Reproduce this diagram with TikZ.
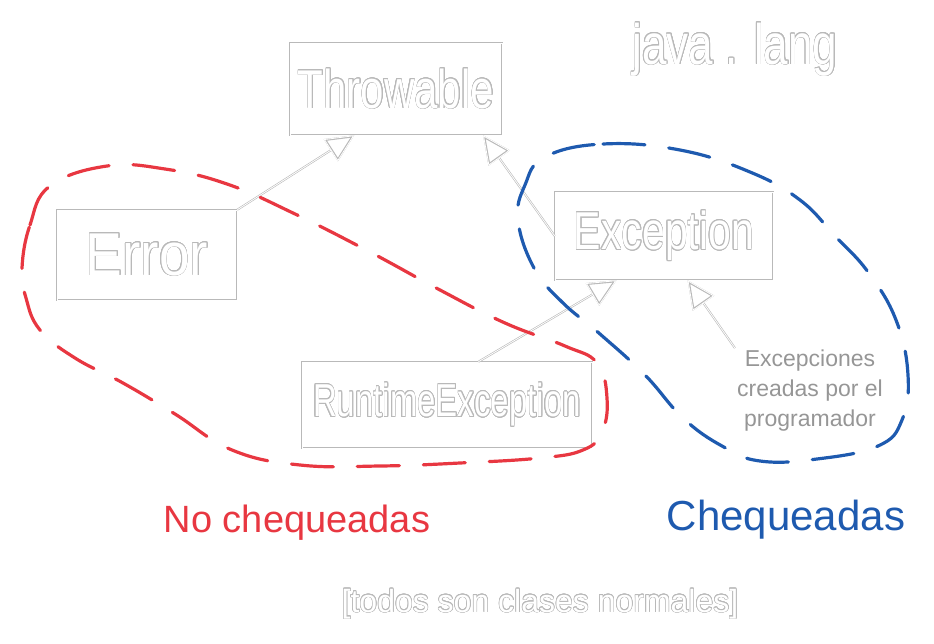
\documentclass[tikz,border=0pt]{standalone}
\usepackage{fontspec}
\setmainfont{Liberation Sans}
\usepackage{xcolor}
\usepackage[copies]{contour}
\usetikzlibrary{arrows.meta, positioning}

\definecolor{sketchgray}{RGB}{185,185,185}
\definecolor{notegray}{RGB}{150,150,150}
\definecolor{uncheckedred}{RGB}{232,55,65}
\definecolor{checkedblue}{RGB}{30,90,175}
\contourlength{0.6pt}
\contournumber{20}
\newcommand{\hollow}[2][1]{\scalebox{1}[#1]{\contour{sketchgray}{\textcolor{white}{#2}}}}

\begin{document}
\begin{tikzpicture}[x=1pt, y=-1pt,
    cls/.style={draw=sketchgray, double=white, double distance=1pt, line width=0.5pt, inner sep=0pt},
    inherits/.style={draw=sketchgray, line width=2pt, -{Triangle[open, length=28pt, width=26pt]},
        postaction={draw=white, line width=0.8pt, -{Triangle[open, length=28pt, width=26pt]}}},
    loopline/.style={line width=3.2pt, line cap=round, dash pattern=on 42pt off 24pt}]
    \useasboundingbox (0,0) rectangle (934,643);
    % classes
    \node[cls, minimum width=212pt, minimum height=92pt, font=\fontsize{42}{42}\selectfont] (throwable) at (396,89) {\hollow[1.3]{Throwable}};
    \node[cls, minimum width=180pt, minimum height=90pt, font=\fontsize{55}{55}\selectfont] (error) at (147,255) {\hollow[1.1]{Error}};
    \node[cls, minimum width=218pt, minimum height=88pt, font=\fontsize{41}{41}\selectfont] (exception) at (664,236) {\hollow[1.3]{Exception}};
    \node[cls, minimum width=290pt, minimum height=86pt, font=\fontsize{33}{33}\selectfont] (runtime) at (447,405) {\hollow[1.4]{RuntimeException}};
    % labels
    \node[anchor=base, font=\fontsize{44}{44}\selectfont] (javalang) at (735,64) {\hollow[1.3]{java . lang}};
    \node[align=center, inner sep=2pt, text=notegray, font=\fontsize{23}{30}\selectfont] (creadas) at (810,391) {Excepciones\\creadas por el\\programador};
    \node[anchor=base, text=uncheckedred, font=\fontsize{38}{38}\selectfont] (nocheq) at (297,532) {No chequeadas};
    \node[anchor=base, text=checkedblue, font=\fontsize{42}{42}\selectfont] (cheq) at (786,530) {Chequeadas};
    \node[anchor=base, font=\fontsize{32}{32}\selectfont] (normales) at (540,612) {\hollow{[todos son clases normales]}};
    % inheritance
    \draw[inherits] (error.north east) -- (throwable.228);
    \draw[inherits] (exception.west) -- (throwable.-28);
    \draw[inherits] (runtime.54) -- (exception.223);
    \draw[inherits] (creadas.north west) -- (exception.-62);
    % unchecked / checked groups
    \draw[loopline, uncheckedred] plot[smooth cycle, tension=0.7] coordinates {
        (22,268) (30,225) (50,186) (107,166) (165,169) (227,184) (293,213) (370,252)
        (440,290) (505,323) (565,346) (597,363) (607,398) (602,432) (583,450) (540,458)
        (460,463) (380,466) (300,465) (232,450) (175,414) (123,383) (75,358) (40,330) (26,298)};
    \draw[loopline, checkedblue] plot[smooth cycle, tension=0.7] coordinates {
        (545,157) (603,144) (680,150) (750,172) (800,200) (835,236) (868,272) (896,320)
        (908,375) (902,420) (878,446) (817,459) (760,461) (722,446) (683,418) (645,375)
        (600,334) (562,302) (534,268) (518,220) (525,185)};
\end{tikzpicture}
\end{document}
